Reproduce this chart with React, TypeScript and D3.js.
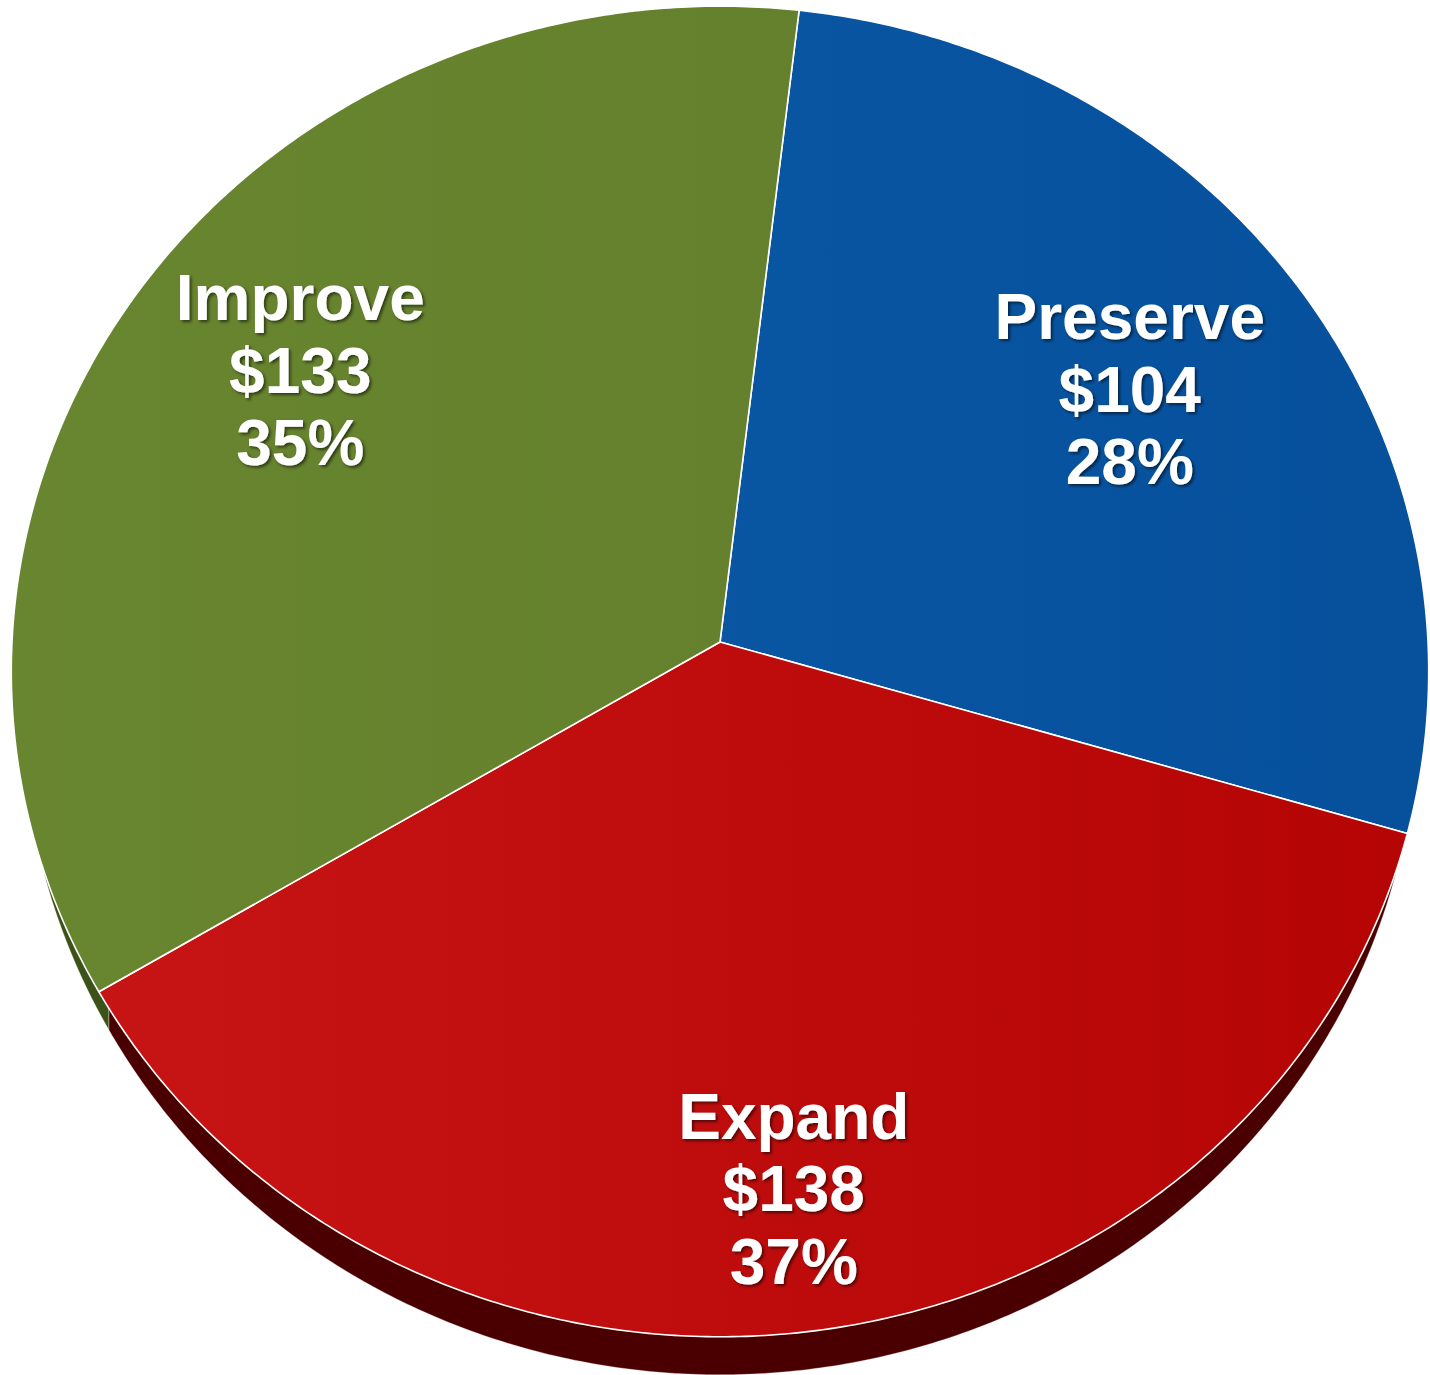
import React from "react";
import * as d3 from "d3";

const categories = ["Preserve", "Expand", "Improve"];
const values = [104, 138, 133];
const topColorsLight = ["#0c5ba8", "#c81515", "#68852f"];
const topColorsDark = ["#06509c", "#b50404", "#627d2b"];
const sideColors = ["#032f5c", "#4a0000", "#3d5219"];

// label layout (radius fraction, angle nudge in degrees)
const labelRadius = [0.705, 0.8, 0.734];
const labelAngleNudge = [0, 0, 1.8];

const W = 1430;
const H = 1375;
const CX = 720;
const CY = 642;
const RX = 708;
const RY = 664;
const K = 0.0443;
const DEPTH = 38;
const BOTTOM_RX_SCALE = 0.984;
const START = (6.7 * Math.PI) / 180;

function proj(theta: number, r: number, z = 0, sx = 1): [number, number] {
  const u = r * Math.sin(theta);
  const v = -r * Math.cos(theta);
  const w = 1 - K * v;
  return [CX + (RX * sx * u) / w, CY + (RY * v) / w + z];
}

function arcPoints(a0: number, a1: number, z = 0, sx = 1): [number, number][] {
  const n = Math.max(2, Math.ceil(((a1 - a0) * 180) / Math.PI / 0.5));
  const pts: [number, number][] = [];
  for (let i = 0; i <= n; i++) pts.push(proj(a0 + ((a1 - a0) * i) / n, 1, z, sx));
  return pts;
}

export default function App() {
  const total = d3.sum(values);
  const pie = d3
    .pie<number>()
    .sort(null)
    .value((d) => d)
    .startAngle(START)
    .endAngle(START + 2 * Math.PI);
  const arcs = pie(values);
  const line = d3.line();
  const pct = d3.format(".0%");

  const sideMin = (60 * Math.PI) / 180;
  const sideMax = (300 * Math.PI) / 180;

  return (
    <div style={{ position: "absolute", left: 0, top: 0 }}>
      <svg width={W} height={H} style={{ display: "block" }}>
        <defs>
          {arcs.map((a, i) => (
            <linearGradient
              key={i}
              id={`g${i}`}
              gradientUnits="userSpaceOnUse"
              x1={CX - RX}
              y1={0}
              x2={CX + RX}
              y2={0}
            >
              <stop offset="0" stopColor={topColorsLight[i]} />
              <stop offset="1" stopColor={topColorsDark[i]} />
            </linearGradient>
          ))}
          <filter id="shadow" x="-20%" y="-20%" width="140%" height="140%">
            <feDropShadow dx="2" dy="2" stdDeviation="1.5" floodColor="#000" floodOpacity="0.55" />
          </filter>
        </defs>
        {/* sides */}
        {arcs.map((a, i) => {
          const s0 = Math.max(a.startAngle, sideMin);
          const s1 = Math.min(a.endAngle, sideMax);
          if (s1 <= s0) return null;
          const topPts = arcPoints(s0, s1, 0, BOTTOM_RX_SCALE);
          const botPts = arcPoints(s0, s1, DEPTH, BOTTOM_RX_SCALE).reverse();
          return (
            <path
              key={`s${i}`}
              d={line([...topPts, ...botPts]) + "Z"}
              fill={sideColors[i]}
              stroke="#ffffff"
              strokeOpacity={0.4}
              strokeWidth={0.8}
            />
          );
        })}
        {/* top faces */}
        {arcs.map((a, i) => {
          const pts = [proj(0, 0), ...arcPoints(a.startAngle, a.endAngle, 0)];
          return (
            <path
              key={`t${i}`}
              d={line(pts) + "Z"}
              fill={`url(#g${i})`}
              stroke="#ffffff"
              strokeWidth={1.6}
              strokeLinejoin="round"
            />
          );
        })}
        {/* labels */}
        {arcs.map((a, i) => {
          const mid = (a.startAngle + a.endAngle) / 2 + (labelAngleNudge[i] * Math.PI) / 180;
          const [x, y] = proj(mid, labelRadius[i]);
          const lines = [categories[i], `$${values[i]}`, pct(values[i] / total)];
          return (
            <text
              key={`l${i}`}
              textAnchor="middle"
              fill="#ffffff"
              fontFamily="'Liberation Sans', Arial, sans-serif"
              fontWeight="bold"
              fontSize={64}
              filter="url(#shadow)"
            >
              {lines.map((t, j) => (
                <tspan key={j} x={x} y={y + 23 + (j - 1) * 72.5}>
                  {t}
                </tspan>
              ))}
            </text>
          );
        })}
      </svg>
    </div>
  );
}
